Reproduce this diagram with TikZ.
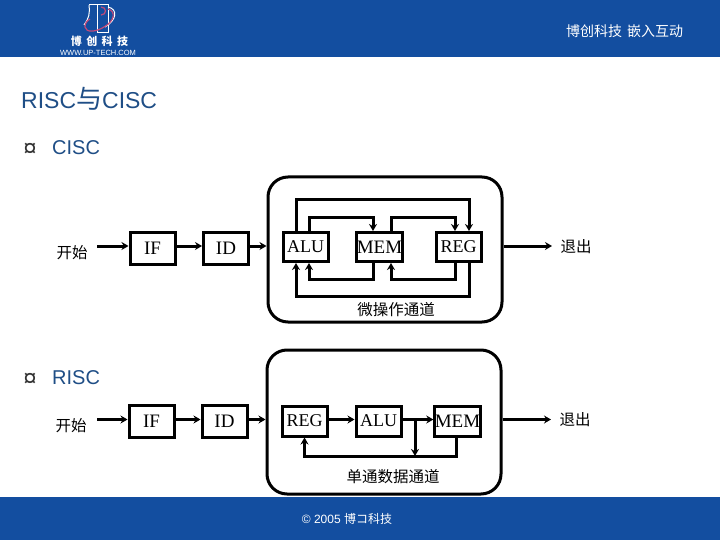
\documentclass[tikz,border=0pt]{standalone}
\usepackage{fontspec}
\setmainfont{Liberation Sans}
\newfontfamily\serifbox{Liberation Serif}
\newfontfamily\cjk{Noto Sans CJK SC}[Scale=1]
\usetikzlibrary{arrows.meta,calc}
\definecolor{barblue}{HTML}{134EA0}
\definecolor{headblue}{HTML}{1F4E86}
\definecolor{mugred}{HTML}{C04A7A}
\tikzset{
  unitbox/.style={draw=black,line width=3pt,fill=white,minimum width=45pt,minimum height=30pt,inner sep=0pt,font=\serifbox\fontsize{18}{19}\selectfont},
  outerbox/.style={draw=black,line width=3pt,rounded corners=20pt,fill=white},
  flow/.style={line width=3pt,-{Stealth[length=7pt,width=8pt]}},
  cn/.style={font=\cjk\fontsize{15.5}{17}\selectfont,inner sep=0pt,text=black},
  head/.style={font=\fontsize{20}{22}\selectfont,text=headblue,inner sep=0pt,anchor=west},
  bul/.style={font=\fontsize{24}{26}\selectfont,text=black!80,inner sep=0pt},
}
\begin{document}
\begin{tikzpicture}[x=1pt,y=-1pt]
\useasboundingbox (0,0) rectangle (720,540);
\fill[white] (0,0) rectangle (720,540);
\fill[barblue] (0,0) rectangle (720,57);
\fill[barblue] (0,497) rectangle (720,540);
% logo
\draw[white,line width=1pt] (89,5) -- (108,5) -- (108,33) -- (97,33) (97.5,5) -- (97.5,33);
\draw[white,line width=1pt] (89,5) .. controls (90,14) and (89,18) .. (84,25);
\draw[white,line width=1pt] (108,7) .. controls (118,9) and (117,20) .. (105,27);
\draw[mugred,line width=1.2pt] (108,9) .. controls (116,11) and (115,21) .. (104,27) .. controls (96,32) and (86,33) .. (85,27) .. controls (85,23) and (87,21) .. (90,19);
\draw[mugred,line width=1.2pt] (101,7) .. controls (107,7) and (107,15) .. (101,15);
\node[inner sep=0pt,text=white] (logotext) at (99.5,41) {\cjk\bfseries\fontsize{11}{12}\selectfont 博\hspace{4.5pt}创\hspace{4.5pt}科\hspace{4.5pt}技};
\node[inner sep=0pt,text=white] (logourl) at (98,52.5) {\fontsize{7.5}{9}\selectfont WWW.UP-TECH.COM};
\node[inner sep=0pt,text=white] (toptext) at (624.5,31) {\cjk\fontsize{14}{15}\selectfont 博创科技\hspace{5pt}嵌入互动};
% headings
\node[inner sep=0pt,text=headblue,anchor=west] (title) at (21,99) {\fontsize{23}{25}\selectfont RISC{\cjk\fontsize{26}{26}\selectfont 与}CISC};
\node[bul] (b1) at (30,150) {¤};
\node[head] (h1) at (52,148) {CISC};
\node[bul] (b2) at (30,380) {¤};
\node[head] (h2) at (52,378) {RISC};
% CISC
\node[outerbox,minimum width=234pt,minimum height=145pt] (ocisc) at (385,249.5) {};
\node[cn] (start1) at (72,253) {开始};
\node[unitbox,minimum height=32pt,font=\serifbox\fontsize{19}{20}\selectfont] (if1) at (152.5,248.5) {IF};
\node[unitbox,minimum height=32pt,font=\serifbox\fontsize{19}{20}\selectfont] (id1) at (226,248.5) {ID};
\node[unitbox,minimum height=29pt] (alu1) at (305.5,247) {ALU};
\node[unitbox,minimum height=29pt,font=\serifbox\fontsize{19}{20}\selectfont] (mem1) at (379.5,247) {MEM};
\node[unitbox,minimum height=29pt] (reg1) at (458.5,247) {REG};
\node[cn] (exit1) at (576,247) {退出};
\node[cn] (lab1) at (396,310) {微操作通道};
\coordinate (s1) at (97,246);
\coordinate (e1) at (552,246);
\draw[flow] (s1) -- (s1 -| if1.west);
\draw[flow] (if1.east |- s1) -- (s1 -| id1.west);
\draw[flow] (id1.east |- s1) -- (s1 -| ocisc.west);
\draw[flow] (ocisc.east |- e1) -- (e1);
\draw[flow] ([xshift=-9.5pt]alu1.north) |- (380,200) -| ([xshift=10.5pt]reg1.north);
\draw[flow] ([xshift=3.5pt]alu1.north) |- (340,218) -| ([xshift=-6.5pt]mem1.north);
\draw[flow] ([xshift=11.5pt]mem1.north) |- (420,218) -| ([xshift=-3.5pt]reg1.north);
\draw[flow] ([xshift=-6.5pt]mem1.south) |- (340,279) -| ([xshift=3.5pt]alu1.south);
\draw[flow] ([xshift=-3.5pt]reg1.south) |- (420,279) -| ([xshift=11.5pt]mem1.south);
\draw[flow] ([xshift=10.5pt]reg1.south) |- (380,296) -| ([xshift=-9.5pt]alu1.south);
% RISC
\node[outerbox,minimum width=234pt,minimum height=144pt] (orisc) at (384,422) {};
\node[cn] (start2) at (71,426) {开始};
\node[unitbox,minimum height=32pt,font=\serifbox\fontsize{19}{20}\selectfont] (if2) at (151.5,421.5) {IF};
\node[unitbox,minimum height=32pt,font=\serifbox\fontsize{19}{20}\selectfont] (id2) at (224.5,421.5) {ID};
\node[unitbox] (reg2) at (304.5,421) {REG};
\node[unitbox] (alu2) at (378.5,421) {ALU};
\node[unitbox,font=\serifbox\fontsize{19}{20}\selectfont] (mem2) at (457.5,421) {MEM};
\node[cn] (exit2) at (575,420) {退出};
\node[cn] (lab2) at (393,477) {单通数据通道};
\coordinate (s2) at (97,419.5);
\coordinate (e2) at (551,419.5);
\coordinate (junc) at (415,419.5);
\coordinate (jdown) at (415,456);
\draw[flow] (s2) -- (s2 -| if2.west);
\draw[flow] (if2.east |- s2) -- (s2 -| id2.west);
\draw[flow] (id2.east |- s2) -- (s2 -| orisc.west);
\draw[flow] (orisc.east |- e2) -- (e2);
\draw[flow] (reg2.east |- s2) -- (s2 -| alu2.west);
\draw[flow] (alu2.east |- s2) -- (s2 -| mem2.west);
\draw[flow] (junc) -- (jdown);
\draw[flow] ([xshift=-1.5pt]mem2.south) |- (jdown) -| (reg2.south);
% footer
\node[inner sep=0pt,text=white] (foot) at (347,518.5) {\fontsize{12}{14}\selectfont © 2005 \cjk 博コ科技};
\end{tikzpicture}
\end{document}
